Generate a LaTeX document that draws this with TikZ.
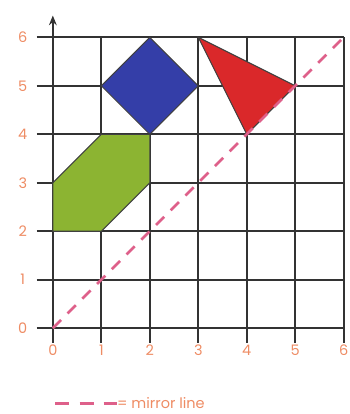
\documentclass[tikz,border=0pt]{standalone}
\usepackage{fontspec}
\setmainfont{Poppins}
\usepackage{tikz}
\usetikzlibrary{arrows.meta,positioning}
\definecolor{labelorange}{RGB}{238,140,100}
\definecolor{mirrorpink}{RGB}{222,96,138}
\definecolor{sqblue}{RGB}{52,62,168}
\definecolor{trired}{RGB}{218,40,42}
\definecolor{hexgreen}{RGB}{140,180,50}

\begin{document}
\begin{tikzpicture}[font=\fontsize{8.5}{10}\selectfont,
  gridline/.style={draw=black!80,line width=1pt},
  numlabel/.style={text=labelorange,inner sep=1pt},
  shapeedge/.style={draw=black!75,line width=0.6pt},
  mirror/.style={draw=mirrorpink,line width=1.6pt,dash pattern=on 2.4mm off 1.9mm}]
\useasboundingbox (-1.09,-1.77) rectangle (6.11,6.77);
% grid with ticks sticking out
\draw[gridline] (-0.33,0) grid (6,6);
\foreach \k in {0,...,6} {
  \draw[gridline] (\k,0) -- (\k,-0.3);
  \draw[gridline] (-0.33,\k) -- (0,\k);
}
\coordinate (origin) at (0,0);
\coordinate (ytop) at (0,6.45);
\draw[gridline,-{Stealth[length=2mm,width=1.6mm]}] (origin) -- (ytop);
% axis numbers
\foreach \k in {0,...,6} {
  \node[numlabel] (x\k) at (\k,-0.45) {\k};
  \node[numlabel] (y\k) at (-0.62,\k) {\k};
}
% shapes
\filldraw[shapeedge,fill=sqblue] (1,5) -- (2,6) -- (3,5) -- (2,4) -- cycle;
\filldraw[shapeedge,fill=trired] (3,6) -- (5,5) -- (4,4) -- cycle;
\filldraw[shapeedge,fill=hexgreen] (0,2) -- (1,2) -- (2,3) -- (2,4) -- (1,4) -- (0,3) -- cycle;
% mirror line
\coordinate (mtop) at (6,6);
\draw[mirror] (origin) -- (mtop);
% legend
\coordinate (legstart) at (0.05,-1.55);
\node[anchor=west,text=labelorange,inner sep=0pt] (legend) at (1.32,-1.55) {= mirror line};
\draw[mirror,dash pattern=on 2.9mm off 2.1mm] (legstart) -- (legend.west);
\end{tikzpicture}
\end{document}
